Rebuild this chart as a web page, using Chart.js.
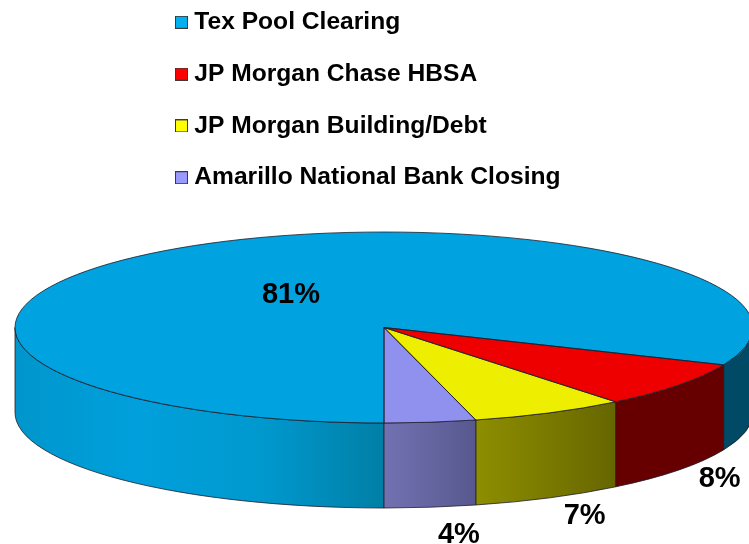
<!DOCTYPE html>
<html><head><meta charset="utf-8">
<script src="https://cdn.jsdelivr.net/npm/chart.js@4"></script>
<style>html,body{margin:0;padding:0;background:#fff;overflow:hidden}canvas{display:block}</style>
</head><body>
<canvas id="c" width="749" height="544"></canvas>
<script>
const categories = ['Tex Pool Clearing','JP Morgan Chase HBSA','JP Morgan Building/Debt','Amarillo National Bank Closing'];
const values = [81.4, 7.8, 6.8, 4.0];
const topColors = ['#00A2E0','#EE0000','#EEEE00','#9090EE'];
const legendColors = ['#00B0F0','#FF0000','#FFFF00','#9999FF'];
// wall shading, per visible wall segment of each slice (left to right stops)
const wallShades = [
  [['#0096CC','#00A0DC','#0099CE','#007FA6'],['#004A66','#004A66']],
  [['#660000','#660000']],
  [['#8E8E00','#666600']],
  [['#7272B2','#58588F']]
];
// label placement: radial factor on the ellipse, extra drop in px
const labelK = [0.457,1.14,1.213,1.62];
const labelDrop = [4,86,85,54];
const RADIUS = 369, SQUASH = 95.5/369, DEPTH = 85;

function swatch(color){
  const s=document.createElement('canvas'); s.width=13; s.height=13;
  const g=s.getContext('2d'); g.fillStyle=color; g.fillRect(0,0,13,13);
  g.strokeStyle='#3a3a3a'; g.lineWidth=1; g.strokeRect(.5,.5,12,12);
  return s;
}
const swatches = legendColors.map(swatch);

const tilt = {
  id:'tilt',
  afterLayout(chart){
    const lg=chart.legend, f=lg.options.labels.font.size, p=lg.options.labels.padding;
    lg.left=181-p; lg.top=22.3-f/2-p;
  },
  beforeDatasetsDraw(chart){
    const ctx=chart.ctx, arcs=chart.getDatasetMeta(0).data;
    arcs.forEach((a,i)=>{
      const ry=a.outerRadius*SQUASH, rx=a.outerRadius;
      const ranges=[[0,Math.PI],[2*Math.PI,3*Math.PI]];
      let seg=0;
      ranges.forEach(r=>{
        const s=Math.max(a.startAngle,r[0]), e=Math.min(a.endAngle,r[1]);
        if(e<=s) return;
        const stops=wallShades[i][seg++]||wallShades[i][0];
        const x1=a.x+rx*Math.cos(s), x2=a.x+rx*Math.cos(e);
        const g=ctx.createLinearGradient(Math.min(x1,x2),0,Math.max(x1,x2),0);
        stops.forEach((c,k)=>g.addColorStop(k/(stops.length-1),c));
        ctx.beginPath();
        ctx.ellipse(a.x,a.y,rx,ry,0,s,e,false);
        ctx.ellipse(a.x,a.y+DEPTH,rx,ry,0,e,s,true);
        ctx.closePath();
        ctx.fillStyle=g; ctx.fill();
        ctx.lineWidth=.8; ctx.strokeStyle='#1c1c2a'; ctx.stroke();
      });
    });
    const a=arcs[0];
    ctx.save();
    ctx.translate(a.x,a.y); ctx.scale(1,SQUASH); ctx.translate(-a.x,-a.y);
  },
  afterDatasetsDraw(chart){
    const ctx=chart.ctx, arcs=chart.getDatasetMeta(0).data;
    ctx.restore();
    arcs.forEach(a=>{
      ctx.beginPath();
      ctx.moveTo(a.x,a.y);
      ctx.ellipse(a.x,a.y,a.outerRadius,a.outerRadius*SQUASH,0,a.startAngle,a.endAngle,false);
      ctx.closePath();
      ctx.lineWidth=.8; ctx.strokeStyle='#1c1c2a'; ctx.stroke();
    });
    ctx.fillStyle='#000';
    ctx.font='bold 29px "Liberation Sans"';
    ctx.textAlign='center'; ctx.textBaseline='middle';
    arcs.forEach((a,i)=>{
      const m=(a.startAngle+a.endAngle)/2, k=labelK[i];
      ctx.fillText(Math.round(values[i])+'%',
        a.x+k*a.outerRadius*Math.cos(m),
        a.y+k*a.outerRadius*SQUASH*Math.sin(m)+labelDrop[i]);
    });
  }
};

new Chart(document.getElementById('c'),{
  type:'pie',
  data:{labels:categories,datasets:[{data:values,backgroundColor:topColors,borderWidth:0,hoverOffset:0}]},
  options:{
    responsive:false,animation:false,
    rotation:180,radius:RADIUS,
    layout:{padding:{left:19,top:111,right:0,bottom:0}},
    plugins:{
      tooltip:{enabled:false},
      title:{display:false},
      legend:{
        position:'chartArea',align:'start',
        labels:{
          usePointStyle:true,pointStyleWidth:1,padding:27.2,color:'#000',
          font:{family:'"Liberation Sans"',size:24.6,weight:'bold'},
          generateLabels:(chart)=>categories.map((t,i)=>({text:t,index:i,pointStyle:swatches[i],fillStyle:legendColors[i],strokeStyle:'#3a3a3a',lineWidth:1,hidden:false}))
        }
      }
    }
  },
  plugins:[tilt]
});
</script>
</body></html>
